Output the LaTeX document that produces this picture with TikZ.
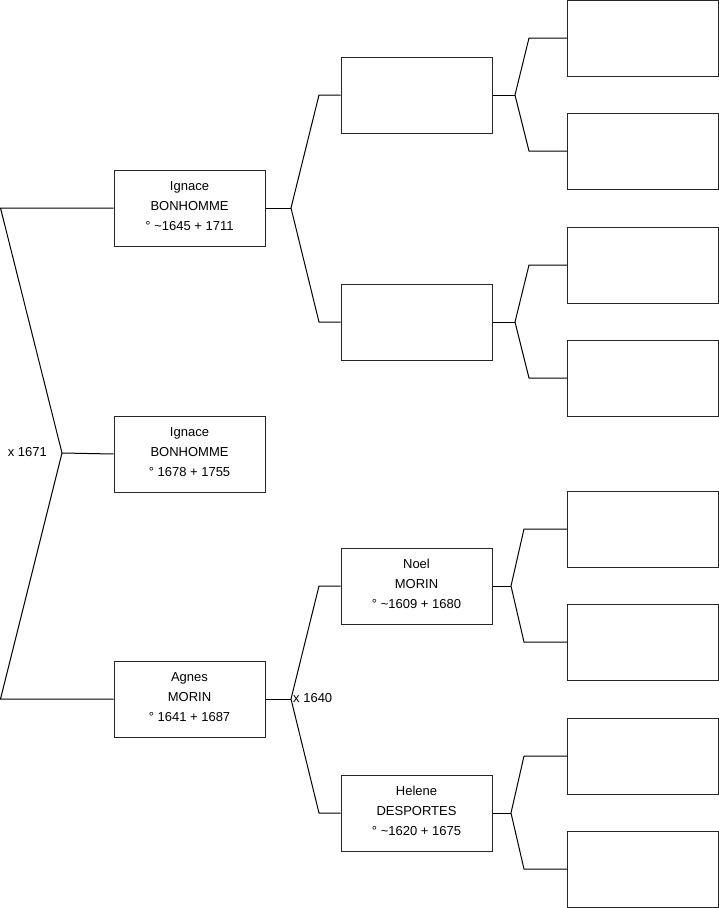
\documentclass[tikz,border=0pt]{standalone}
\usepackage{fontspec}
\setmainfont{Liberation Sans}
\begin{document}
\begin{tikzpicture}[x=1pt,y=-1pt,
  person/.style={draw=black!85, line width=1pt, minimum width=151pt, minimum height=76pt, inner sep=0pt},
  txt/.style={align=center, font=\fontsize{13}{20}\selectfont, inner sep=0pt},
  link/.style={draw=black, line width=1pt}]
\useasboundingbox (0,0) rectangle (719,908);
% level 1
\node[person] (a1) at (189.5,208) {};
\node[person] (a2) at (189.5,454) {};
\node[person] (a3) at (189.5,699) {};
\node[txt] (ta1) at (189.5,206) {Ignace\\BONHOMME\\° \textasciitilde1645 + 1711};
\node[txt] (ta2) at (189.5,452) {Ignace\\BONHOMME\\° 1678 + 1755};
\node[txt] (ta3) at (189.5,697) {Agnes\\MORIN\\° 1641 + 1687};
% level 2
\node[person] (b1) at (416.5,95) {};
\node[person] (b2) at (416.5,322) {};
\node[person] (b3) at (416.5,586) {};
\node[person] (b4) at (416.5,813) {};
\node[txt] (tb3n) at (416.5,584) {Noel\\MORIN\\° \textasciitilde1609 + 1680};
\node[txt] (tb4n) at (416.5,811) {Helene\\DESPORTES\\° \textasciitilde1620 + 1675};
% level 3
\node[person] (c1) at (643,38) {};
\node[person] (c2) at (643,151) {};
\node[person] (c3) at (643,265) {};
\node[person] (c4) at (643,378) {};
\node[person] (c5) at (643,529) {};
\node[person] (c6) at (643,642) {};
\node[person] (c7) at (643,756) {};
\node[person] (c8) at (643,869) {};
% junctions
\coordinate (t1) at (0.5,208);
\coordinate (j1) at (62,453);
\coordinate (u1) at (0.5,699);
\coordinate (jb1) at (291,208);
\coordinate (tb1) at (319,95);
\coordinate (ub1) at (319,322);
\coordinate (jb3) at (291,699);
\coordinate (tb3) at (319,586);
\coordinate (ub3) at (319,813);
\coordinate (jc1) at (515,95);
\coordinate (tc1) at (529,38);
\coordinate (uc1) at (529,151);
\coordinate (jc2) at (515,322);
\coordinate (tc2) at (529,265);
\coordinate (uc2) at (529,378);
\coordinate (jc3) at (511,586);
\coordinate (tc3) at (524,529);
\coordinate (uc3) at (524,642);
\coordinate (jc4) at (511,813);
\coordinate (tc4) at (524,756);
\coordinate (uc4) at (524,869);
% connectors
\draw[link] (a1.west) -- (t1) -- (j1) -- (u1) -- (a3.west);
\draw[link] (j1) -- (a2.west);
\draw[link] (b1.west) -- (tb1) -- (jb1) -- (ub1) -- (b2.west);
\draw[link] (jb1) -- (a1.east);
\draw[link] (b3.west) -- (tb3) -- (jb3) -- (ub3) -- (b4.west);
\draw[link] (jb3) -- (a3.east);
\draw[link] (c1.west) -- (tc1) -- (jc1) -- (uc1) -- (c2.west);
\draw[link] (jc1) -- (b1.east);
\draw[link] (c3.west) -- (tc2) -- (jc2) -- (uc2) -- (c4.west);
\draw[link] (jc2) -- (b2.east);
\draw[link] (c5.west) -- (tc3) -- (jc3) -- (uc3) -- (c6.west);
\draw[link] (jc3) -- (b3.east);
\draw[link] (c7.west) -- (tc4) -- (jc4) -- (uc4) -- (c8.west);
\draw[link] (jc4) -- (b4.east);
% marriage labels
\node[anchor=east, font=\fontsize{13}{15}\selectfont, inner sep=0pt] (m1) at (47,452) {x 1671};
\node[anchor=west, font=\fontsize{13}{15}\selectfont, inner sep=0pt] (m2) at (293,698) {x 1640};
\end{tikzpicture}
\end{document}
